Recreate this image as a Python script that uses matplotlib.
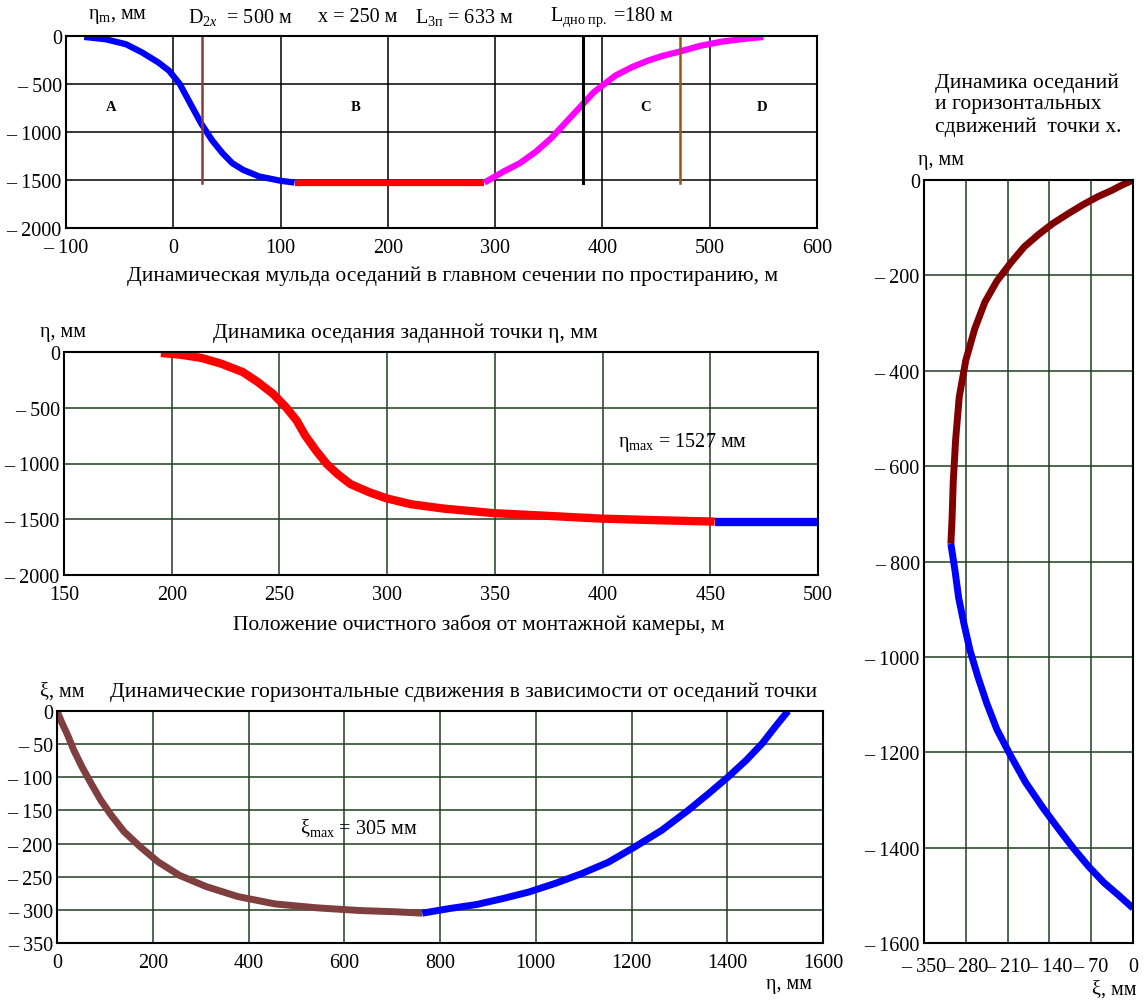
import matplotlib
matplotlib.use("Agg")
import matplotlib.pyplot as plt

plt.rcParams['font.family'] = ['Liberation Serif', 'DejaVu Serif']
plt.rcParams['mathtext.fontset'] = 'custom'
plt.rcParams['mathtext.rm'] = 'Liberation Serif'
plt.rcParams['mathtext.it'] = 'Liberation Serif:italic'
plt.rcParams['mathtext.bf'] = 'Liberation Serif:bold'

# ---------------- data ----------------
# Top: dynamic subsidence trough (x, m ; eta, mm)
trough_a_x = [-83, -63, -44, -29, -14, -4, 6, 16, 26, 36, 46, 55, 65, 80, 100, 113]
trough_a_eta = [-10, -34, -86, -172, -275, -361, -499, -706, -912, -1084, -1222, -1325, -1394, -1463, -1508, -1527]
trough_b_x = [113, 290]
trough_b_eta = [-1527, -1527]
trough_c_x = [290, 308, 323, 338, 352, 362, 372, 382, 392, 402, 412, 427, 442, 456, 472, 491, 511, 531, 550]
trough_c_eta = [-1527, -1411, -1325, -1205, -1067, -947, -826, -706, -585, -499, -413, -327, -258, -207, -162, -103, -59, -31, -10]
marker_x = [27, 382, 472]
marker_top = [0, 0, 0]
marker_bot = [-1527, -1527, -1527]
zone_labels = ['A', 'B', 'C', 'D']
zone_x = [-58, 170, 440, 549]
zone_eta = [-735, -735, -735, -735]

# Middle: subsidence of the point vs face position
face_red_x = [195, 204, 214, 223, 233, 240, 247, 253, 258, 262, 267, 272, 277, 283, 292, 300, 311, 326, 350, 375, 399, 426, 452]
face_red_eta = [-9, -24, -54, -105, -180, -270, -375, -495, -615, -750, -885, -1005, -1095, -1185, -1260, -1314, -1365, -1404, -1446, -1470, -1494, -1509, -1521]
face_blue_x = [452, 500]
face_blue_eta = [-1527, -1527]

# Bottom / right: horizontal displacement xi vs subsidence eta
hz1_eta = [0, 11, 22, 35, 52, 71, 91, 113, 140, 174, 212, 256, 312, 378, 455, 544, 632, 710, 763]
hz1_xi = [0, -19, -36, -59, -84, -109, -134, -157, -182, -205, -228, -248, -265, -280, -291, -297, -301, -303, -305]
hz2_eta = [763, 820, 876, 931, 986, 1041, 1097, 1152, 1207, 1263, 1318, 1362, 1401, 1440, 1473, 1500, 1527]
hz2_xi = [-305, -298, -292, -283, -273, -260, -245, -228, -205, -180, -150, -124, -100, -74, -49, -24, 0]

top_xticks = list(range(-100, 601, 100))
top_yticks = list(range(0, -2001, -500))
mid_xticks = list(range(150, 501, 50))
mid_yticks = list(range(0, -2001, -500))
bot_xticks = list(range(0, 1601, 200))
bot_yticks = list(range(0, -351, -50))
right_xticks = list(range(-350, 1, 70))
right_yticks = list(range(0, -1601, -200))

# ---------------- figure ----------------
W, H = 1145, 1003
fig = plt.figure(figsize=(W / 100, H / 100), dpi=100)

TFS = 15.5   # titles
HFS = 14.5   # header / annotations
KFS = 14.5   # tick labels


def px_axes(l, t, r, b):
    return fig.add_axes([l / W, 1 - b / H, (r - l) / W, (b - t) / H])


def ftext(x, y, s, **kw):
    kw.setdefault('fontsize', TFS)
    kw.setdefault('va', 'center')
    fig.text(x / W, 1 - y / H, s, **kw)


def fmt(v):
    v = int(v)
    return '0' if v == 0 else ('\u2013 %d' % abs(v) if v < 0 else '%d' % v)


GREEN = '#1f3f1f'


def style(ax, xt, yt, grid_color, xpad=7):
    ax.set_xticks(xt)
    ax.set_yticks(yt)
    ax.set_xticklabels([fmt(v) for v in xt], fontsize=KFS)
    ax.set_yticklabels([fmt(v) for v in yt], fontsize=KFS)
    ax.tick_params(length=0, pad=3)
    ax.tick_params(axis='x', pad=xpad)
    ax.grid(True, color=grid_color, lw=1.1)
    ax.set_axisbelow(True)
    for s in ax.spines.values():
        s.set_linewidth(1.5)
        s.set_color('black')


# Top chart
ax1 = px_axes(66, 37, 817, 229)
ax1.plot(trough_a_x, trough_a_eta, color='#0000ff', lw=4.5, solid_capstyle='butt')
ax1.plot(trough_b_x, trough_b_eta, color='#ff0000', lw=4.5, solid_capstyle='butt')
ax1.plot(trough_c_x, trough_c_eta, color='#ff00ff', lw=4.5, solid_capstyle='butt')
mcols = ['#8b3a3a', '#000000', '#9a5418']
mlw = [1.8, 2.2, 1.8]
for xm, t, b, c, w in zip(marker_x, marker_top, marker_bot, mcols, mlw):
    ax1.plot([xm, xm], [t, b], color=c, lw=w)
for lab, zx, zy in zip(zone_labels, zone_x, zone_eta):
    ax1.text(zx, zy, lab, fontsize=10.5, fontweight='bold', ha='center', va='center')
ax1.set_xlim(-100, 600)
ax1.set_ylim(-2000, 0)
style(ax1, top_xticks, top_yticks, 'black')

ftext(88, 17, 'η$_\\mathrm{m}$, мм', fontsize=HFS)
ftext(188, 17, 'D$_{2\\mathit{x}}$  = 500 м', fontsize=HFS)
ftext(318, 17, 'x = 250 м', fontsize=HFS)
ftext(415, 17, 'L$_\\mathrm{3п}$ = 633 м', fontsize=HFS)
ftext(550, 17, 'L$_\\mathrm{дно\\ пр.}$ =180 м', fontsize=HFS)
ftext(453, 276, 'Динамическая мульда оседаний в главном сечении по простиранию, м', ha='center')

# Middle chart
ax2 = px_axes(64, 353, 818, 576)
ax2.plot(face_red_x, face_red_eta, color='#ff0000', lw=6, solid_capstyle='butt')
ax2.plot(face_blue_x, face_blue_eta, color='#0000ff', lw=6, solid_capstyle='butt')
ax2.set_xlim(150, 500)
ax2.set_ylim(-2000, 0)
style(ax2, mid_xticks, mid_yticks, GREEN)
ax2.text(407, -800, 'η$_\\mathrm{max}$ = 1527 мм', fontsize=HFS, va='center', ha='left')
ftext(40, 333, 'η, мм', fontsize=HFS)
ftext(213, 333, 'Динамика оседания заданной точки η, мм')
ftext(233, 625, 'Положение очистного забоя от монтажной камеры, м')

# Bottom chart
ax3 = px_axes(57, 712, 823, 944)
ax3.plot(hz1_eta, hz1_xi, color='#7f3f3f', lw=5, solid_capstyle='butt')
ax3.plot(hz2_eta, hz2_xi, color='#0000ff', lw=5, solid_capstyle='butt')
ax3.set_xlim(0, 1600)
ax3.set_ylim(-350, 0)
style(ax3, bot_xticks, bot_yticks, GREEN)
ax3.text(507, -175, 'ξ$_\\mathrm{max}$ = 305 мм', fontsize=HFS, va='center', ha='left')
ftext(40, 692, 'ξ, мм', fontsize=HFS)
ftext(110, 692, 'Динамические горизонтальные сдвижения в зависимости от оседаний точки')
ftext(812, 985, 'η, мм', ha='right', fontsize=HFS)

# Right chart
ax4 = px_axes(924, 181, 1133, 944)
ax4.plot(hz1_xi, [-v for v in hz1_eta], color='#800000', lw=5, solid_capstyle='butt')
ax4.plot(hz2_xi, [-v for v in hz2_eta], color='#0000ff', lw=5, solid_capstyle='butt')
ax4.set_xlim(-350, 0)
ax4.set_ylim(-1600, 0)
style(ax4, right_xticks, right_yticks, GREEN, xpad=10)
ftext(935, 105, 'Динамика оседаний\nи горизонтальных\nсдвижений  точки х.', linespacing=1.2)
ftext(918, 160, 'η, мм', fontsize=HFS)
ftext(1137, 990, 'ξ, мм', ha='right', fontsize=HFS)

fig.savefig('out.png', dpi=100)
